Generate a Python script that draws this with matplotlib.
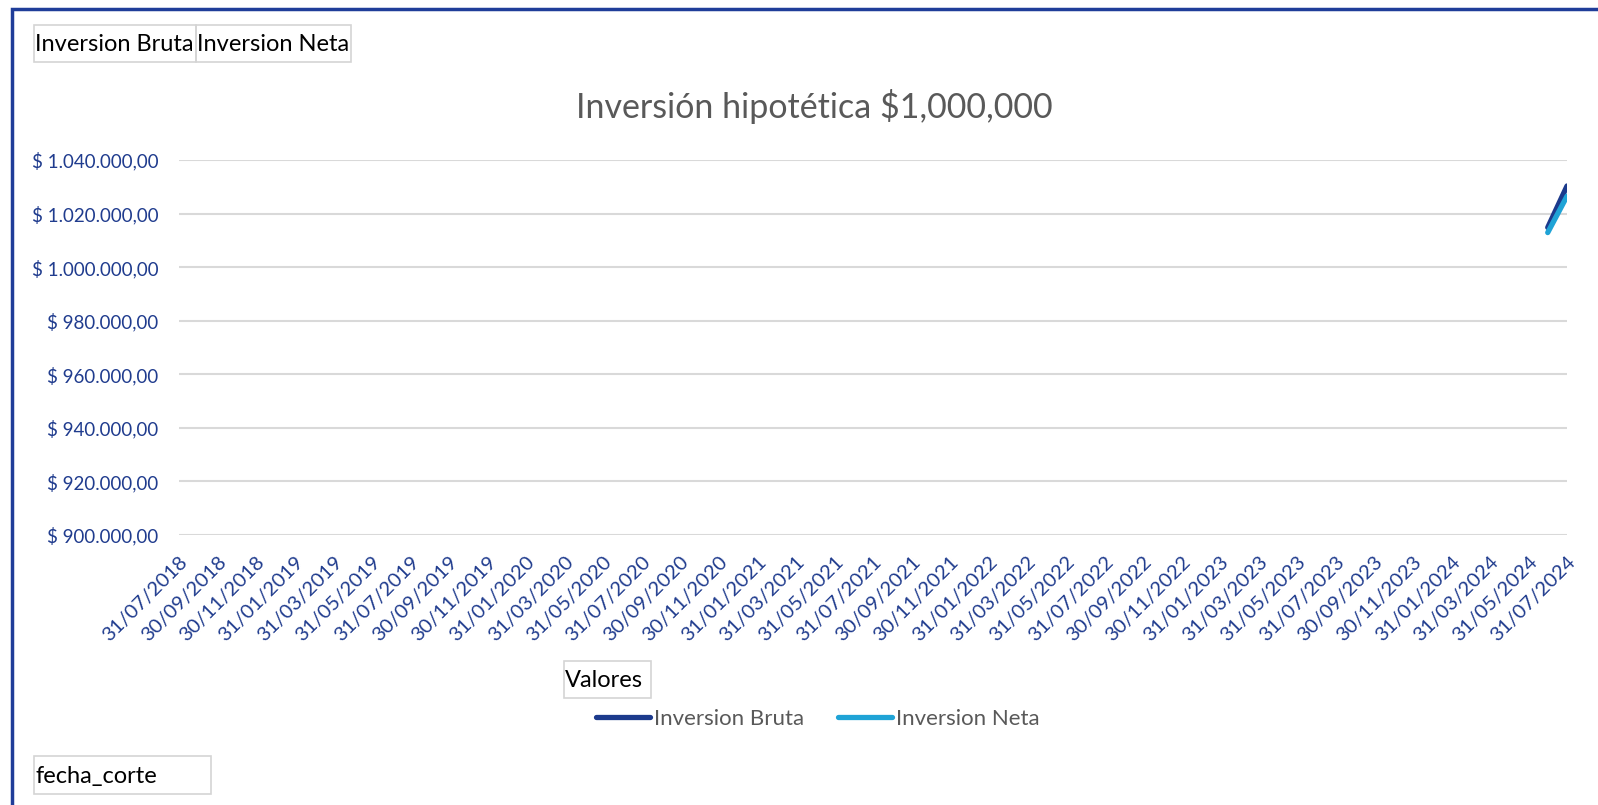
import matplotlib.pyplot as plt
import matplotlib.patches as patches
import numpy as np
import pandas as pd

# Datos del grafico (fechas de corte mensuales, solo los dos ultimos meses tienen valores)
fechas = pd.date_range('2018-07-31', '2024-07-31', freq='ME')
fechas_con_dato = ['30/06/2024', '31/07/2024']
inversion_bruta = [1014800, 1030300]
inversion_neta = [1012900, 1026500]

etiquetas = [f.strftime('%d/%m/%Y') for f in fechas]
y_ticks = [900000, 920000, 940000, 960000, 980000, 1000000, 1020000, 1040000]

azul_oscuro = '#1c3a8c'
azul_claro = '#1fa3d6'
azul_texto = '#203c8e'

plt.rcParams['font.family'] = ['Lato', 'DejaVu Sans']

W, H = 1598, 805
fig = plt.figure(figsize=(W / 100, H / 100), dpi=100)

def fx(px):
    return px / W

def fy(py):
    return 1 - py / H

ax = fig.add_axes([fx(179), fy(535), fx(1567) - fx(179), fy(160) - fy(535)])

x_dato = [etiquetas.index(f) for f in fechas_con_dato]
l1, = ax.plot(x_dato, inversion_bruta, color=azul_oscuro, lw=3.8, solid_capstyle='round', label='Inversion Bruta')
l2, = ax.plot(x_dato, inversion_neta, color=azul_claro, lw=3.8, solid_capstyle='round', label='Inversion Neta')

ax.set_xlim(0, len(etiquetas) - 1)
ax.set_ylim(900000, 1040000)
ax.set_yticks(y_ticks)
ax.set_yticklabels(['$ ' + f'{v:,.2f}'.replace(',', 'X').replace('.', ',').replace('X', '.') for v in y_ticks],
                   color=azul_texto, fontsize=13.5)
ax.set_xticks(range(0, len(etiquetas), 2))
ax.set_xticklabels(etiquetas[::2], rotation=45, ha='right', rotation_mode='anchor',
                   color=azul_texto, fontsize=14.5)
ax.tick_params(axis='y', length=0, pad=15)
ax.tick_params(axis='x', length=0, pad=13)
ax.grid(axis='y', color='#d9d9d9', lw=1.5)
ax.set_axisbelow(True)
for s in ax.spines.values():
    s.set_visible(False)

# Titulo
fig.text(fx(814), fy(106), 'Inversión hipotética $1,000,000', ha='center', va='center',
         fontsize=24.5, color='#595959')

# Botones de la tabla dinamica
def boton(x0, y0, x1, y1, texto, size=17):
    fig.patches.append(patches.Rectangle((fx(x0), fy(y1)), fx(x1) - fx(x0), fy(y0) - fy(y1),
                                         transform=fig.transFigure, fill=False,
                                         edgecolor='#d4d4d4', lw=1.2))
    fig.text(fx(x0 + 1), fy((y0 + y1) / 2 + 1), texto, ha='left', va='center', fontsize=size, color='black')

boton(34, 25, 196, 62, 'Inversion Bruta')
boton(196, 25, 351, 62, 'Inversion Neta')
boton(564, 661, 651, 698, 'Valores')
boton(34, 756, 211, 794, 'fecha_corte')

# Leyenda
fig.legend(handles=[l1, l2], loc='center', bbox_to_anchor=(fx(818), fy(719)), ncol=2,
           frameon=False, fontsize=16, handlelength=2.45, handletextpad=0.18,
           columnspacing=1.5, labelcolor='#595959')

# Borde del area del grafico
fig.patches.append(patches.Rectangle((fx(12), fy(830)), 1.2, fy(9) - fy(830),
                                     transform=fig.transFigure, fill=False,
                                     edgecolor='#1f3d99', lw=2.5, clip_on=False))

fig.savefig('out.png', dpi=100)
